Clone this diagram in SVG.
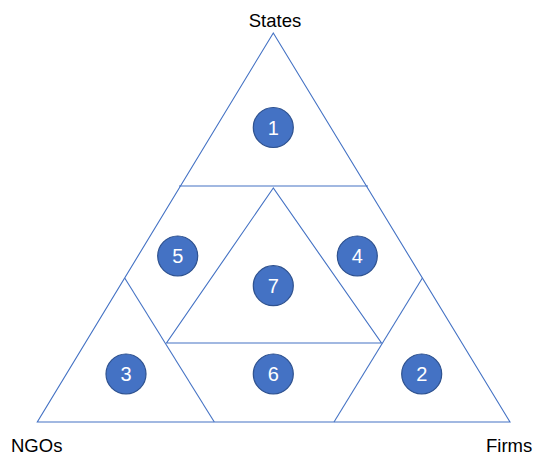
<svg xmlns="http://www.w3.org/2000/svg" width="534" height="456" viewBox="0 0 534 456">
<style>
.ln{fill:none;stroke:#4472C4;stroke-width:1.1}
.c{fill:#4472C4;stroke:#2F528F;stroke-width:1.2}
.n{font-family:"Liberation Sans",Arial,sans-serif;font-size:20px;fill:#fff;text-anchor:middle}
.lb{font-family:"Liberation Sans",Arial,sans-serif;font-size:18.5px;fill:#000}
</style>
<rect width="534" height="456" fill="#fff"/>
<g id="connectors">
<polygon class="ln" points="273.3,33 37.3,422 510,422"/>
<line class="ln" x1="179" y1="186" x2="368" y2="186"/>
<polygon class="ln" points="273.3,188 166.5,343 381.5,343"/>
<polyline class="ln" points="124.7,278 214.3,422"/>
<polyline class="ln" points="334,422 422.4,278"/>
</g>
<g id="node-1"><circle class="c" cx="273.3" cy="127.5" r="20"/><text class="n" x="273.3" y="134.5">1</text></g>
<g id="node-2"><circle class="c" cx="421.7" cy="374" r="20"/><text class="n" x="421.7" y="381">2</text></g>
<g id="node-3"><circle class="c" cx="126" cy="374" r="20"/><text class="n" x="126" y="381">3</text></g>
<g id="node-4"><circle class="c" cx="357.3" cy="256" r="20"/><text class="n" x="357.3" y="263">4</text></g>
<g id="node-5"><circle class="c" cx="177.7" cy="256" r="20"/><text class="n" x="177.7" y="263">5</text></g>
<g id="node-6"><circle class="c" cx="273.3" cy="374" r="20"/><text class="n" x="273.3" y="381">6</text></g>
<g id="node-7"><circle class="c" cx="273.3" cy="285.7" r="20"/><text class="n" x="273.3" y="292.7">7</text></g>
<g id="label-states"><text class="lb" x="275" y="27" text-anchor="middle">States</text></g>
<g id="label-ngos"><text class="lb" x="11" y="451.5">NGOs</text></g>
<g id="label-firms"><text class="lb" x="486" y="451.5">Firms</text></g>
</svg>
